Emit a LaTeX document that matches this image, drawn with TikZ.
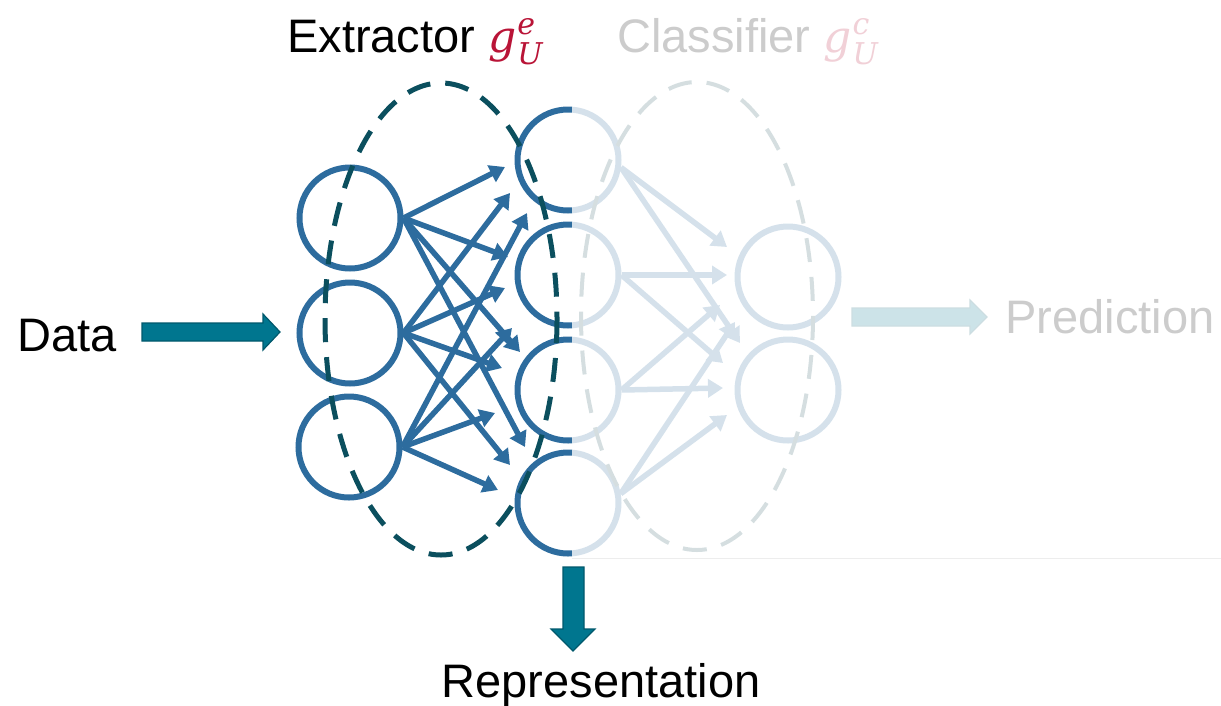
\documentclass[tikz,border=0pt]{standalone}
\usepackage{fontspec}
\setmainfont{Liberation Sans}
\newfontfamily\symserif{DejaVu Serif}
\usetikzlibrary{arrows.meta}

\definecolor{neuron}{RGB}{45,108,158}
\definecolor{ringteal}{RGB}{11,79,94}
\definecolor{flowteal}{RGB}{0,118,143}
\definecolor{flowedge}{RGB}{0,88,108}
\definecolor{symred}{RGB}{185,20,55}

% g with a subscript U and a superscript, set in italic serif
\newcommand{\gsym}[1]{\textcolor{symred}{\symserif\itshape
  \fontsize{44}{50}\selectfont g\kern1pt%
  \rlap{\raisebox{18pt}{\fontsize{30}{30}\selectfont #1}}%
  \raisebox{-12pt}{\fontsize{30}{30}\selectfont U}}}

\begin{document}
\begin{tikzpicture}[x=1pt,y=-1pt,
  neuronnode/.style={circle, draw=neuron, line width=6pt, minimum size=101pt, inner sep=0pt},
  link/.style={draw=neuron, line width=5.5pt, -{Triangle[length=15pt,width=18pt]}},
  ringline/.style={draw=ringteal, line width=5pt, dash pattern=on 24pt off 15pt},
  blockflow/.style={fill=flowteal, draw=flowedge, line width=1.2pt, line join=miter},
  txt/.style={font=\fontsize{47}{56}\selectfont, anchor=base, inner sep=0pt}
]
\useasboundingbox (0,0) rectangle (1221,705);

% input layer
\node[neuronnode] (i1) at (350,218) {};
\node[neuronnode] (i2) at (350,333) {};
\node[neuronnode] (i3) at (349,447) {};
% representation layer
\node[neuronnode] (m1) at (568,160) {};
\node[neuronnode] (m2) at (568,275) {};
\node[neuronnode] (m3) at (568,390) {};
\node[neuronnode] (m4) at (568,503) {};
% output layer
\node[neuronnode] (o1) at (788,277) {};
\node[neuronnode] (o2) at (788,390) {};

% extractor links: input -> representation
\foreach \s/\t/\dx/\dy in {i1/m1/-63/7, i2/m1/-58/33, i3/m1/-41/53,
                           i1/m2/-60/-18, i2/m2/-63/13, i3/m2/-56/53,
                           i1/m3/-48/-38, i2/m3/-66/-22, i3/m3/-73/23,
                           i1/m4/-43/-56, i2/m4/-58/-38, i3/m4/-70/-13}
  \draw[link] (\s.east) -- ([shift={(\dx,\dy)}]\t.center);

% classifier links: representation -> output
\foreach \s/\a/\t/\dx/\dy in {m1/-8/o1/-61/-30, m2/0/o1/-61/-2, m3/0/o1/-68/28, m4/10/o1/-53/45,
                              m1/-8/o2/-48/-47, m2/0/o2/-65/-27, m3/0/o2/-65/-2, m4/10/o2/-61/25}
  \draw[link] (\s.\a) -- ([shift={(\dx,\dy)}]\t.center);

% module outlines
\draw[ringline] (441,319) ellipse [x radius=116, y radius=236];
\draw[ringline, line width=4pt, draw=ringteal!70!gray] (697,316) ellipse [x radius=116, y radius=234];

% classifier side (shown dimmed)
\fill[blockflow] (852,308) -- (970,308) -- (970,300) -- (987,317) -- (970,334) -- (970,326) -- (852,326) -- cycle;
\node[txt, anchor=base west] (clsf) at (617,52) {Classifier \gsym{c}};
\node[txt] (pred) at (1110,333) {Prediction};

% dimming veil over the classifier part
\fill[white, opacity=0.8] (572,0) rectangle (1221,558);
\draw[black!7, line width=0.8pt] (572,558) -- (1221,558);

% data and representation flows
\node[txt] (data) at (67,351) {Data};
\filldraw[blockflow] (142,323) -- (263,323) -- (263,314) -- (280,332) -- (263,350) -- (263,341) -- (142,341) -- cycle;
\filldraw[blockflow] (563,567) -- (584,567) -- (584,629) -- (595,629) -- (573,651) -- (551,629) -- (563,629) -- cycle;
\node[txt] (repr) at (601,697) {Representation};
\node[txt, anchor=base west] (extr) at (287,52) {Extractor \gsym{e}};
\end{tikzpicture}
\end{document}
